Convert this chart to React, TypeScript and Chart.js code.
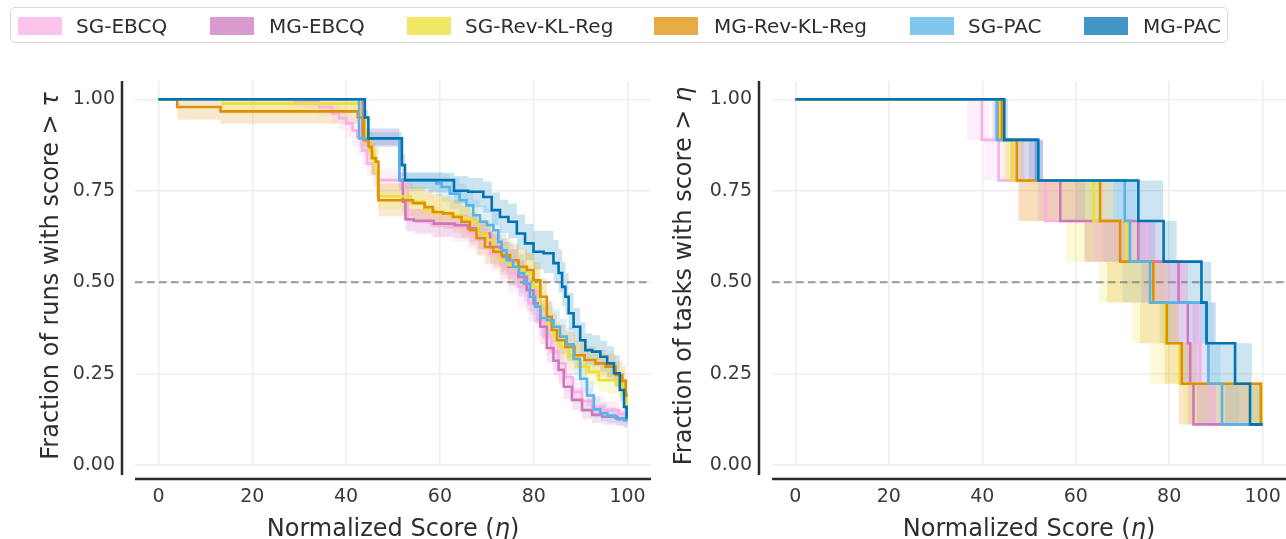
import React, { useEffect, useRef } from "react";
import { Chart, registerables } from "chart.js";

Chart.register(...registerables);

// ---------------- series ----------------
const seriesNames = ["SG-EBCQ", "MG-EBCQ", "SG-Rev-KL-Reg", "MG-Rev-KL-Reg", "SG-PAC", "MG-PAC"];
const seriesColors = ["#fbafe4", "#cc78bc", "#ece133", "#de8f05", "#56b4e9", "#0173b2"];

// ---------------- fraction of runs (score distribution) ----------------
const runXSgEbcq = [0, 29, 29.5, 32.1, 36.4, 37.8, 39.3, 40.7, 42, 42.8, 44, 45, 46.4, 47.1, 52.8, 53.5, 56.4, 60, 64.9, 67.1, 69.3, 72.1, 73.5, 75.7, 77.8, 80, 81.5, 83, 84.5, 86, 87.5, 89.2, 91.4, 93.5, 96.4, 100];
const runYSgEbcq = [1, 1, 0.993, 0.993, 0.979, 0.961, 0.948, 0.934, 0.915, 0.897, 0.86, 0.824, 0.797, 0.779, 0.779, 0.67, 0.665, 0.656, 0.651, 0.633, 0.615, 0.578, 0.551, 0.524, 0.487, 0.442, 0.396, 0.35, 0.31, 0.278, 0.24, 0.2, 0.175, 0.159, 0.15, 0.14];
const runLoSgEbcq = [1, 1, 0.98, 0.975, 0.955, 0.935, 0.915, 0.895, 0.87, 0.85, 0.82, 0.79, 0.76, 0.74, 0.74, 0.64, 0.63, 0.62, 0.61, 0.59, 0.57, 0.53, 0.5, 0.47, 0.43, 0.39, 0.35, 0.3, 0.26, 0.23, 0.2, 0.17, 0.15, 0.14, 0.13, 0.12];
const runHiSgEbcq = [1, 1, 1, 1, 0.995, 0.985, 0.975, 0.965, 0.95, 0.935, 0.9, 0.86, 0.83, 0.81, 0.81, 0.7, 0.7, 0.69, 0.685, 0.67, 0.65, 0.62, 0.6, 0.57, 0.54, 0.49, 0.44, 0.4, 0.36, 0.32, 0.28, 0.24, 0.21, 0.19, 0.175, 0.16];

const runXMgEbcq = [0, 43, 44, 51, 51.7, 52.5, 52.8, 56, 61.4, 64.9, 67.1, 69.3, 72.1, 73.5, 75.7, 77.8, 79.2, 80.7, 82.1, 83.5, 84.9, 85.7, 87.1, 89.2, 91.4, 93.5, 95.7, 100];
const runYMgEbcq = [1, 1, 0.893, 0.893, 0.779, 0.72, 0.672, 0.668, 0.66, 0.656, 0.647, 0.633, 0.596, 0.569, 0.542, 0.514, 0.478, 0.442, 0.378, 0.32, 0.285, 0.26, 0.214, 0.178, 0.15, 0.137, 0.132, 0.125];
const runLoMgEbcq = [1, 1, 0.87, 0.87, 0.75, 0.69, 0.64, 0.635, 0.625, 0.62, 0.61, 0.59, 0.55, 0.52, 0.49, 0.46, 0.42, 0.39, 0.33, 0.28, 0.245, 0.22, 0.18, 0.15, 0.125, 0.115, 0.11, 0.105];
const runHiMgEbcq = [1, 1, 0.92, 0.92, 0.8, 0.75, 0.7, 0.7, 0.69, 0.685, 0.68, 0.67, 0.64, 0.61, 0.59, 0.56, 0.53, 0.49, 0.43, 0.37, 0.33, 0.3, 0.25, 0.21, 0.18, 0.16, 0.155, 0.145];

const runXSgRev = [0, 13.5, 14, 42.5, 43.5, 44.5, 45.5, 46.5, 47, 52, 55.5, 57.8, 60, 63.5, 65.7, 67.1, 69.3, 70.7, 72.1, 73.5, 75.7, 77.8, 79.2, 80.7, 82.1, 83.5, 84.9, 86.3, 88.5, 90.6, 92.8, 94.9, 97.1, 98.5, 99.6, 100];
const runYSgRev = [1, 1, 0.988, 0.988, 0.95, 0.9, 0.86, 0.8, 0.735, 0.735, 0.72, 0.697, 0.688, 0.683, 0.674, 0.665, 0.633, 0.615, 0.587, 0.56, 0.546, 0.533, 0.524, 0.487, 0.433, 0.387, 0.351, 0.323, 0.296, 0.269, 0.255, 0.232, 0.232, 0.223, 0.196, 0.17];
const runLoSgRev = [1, 1, 0.96, 0.96, 0.92, 0.87, 0.82, 0.76, 0.7, 0.7, 0.68, 0.66, 0.65, 0.645, 0.635, 0.62, 0.59, 0.57, 0.54, 0.51, 0.5, 0.49, 0.48, 0.44, 0.39, 0.35, 0.31, 0.29, 0.26, 0.235, 0.22, 0.2, 0.195, 0.185, 0.16, 0.14];
const runHiSgRev = [1, 1, 1, 1, 0.98, 0.94, 0.9, 0.84, 0.77, 0.77, 0.76, 0.74, 0.73, 0.72, 0.71, 0.705, 0.68, 0.66, 0.63, 0.61, 0.59, 0.58, 0.57, 0.54, 0.48, 0.43, 0.39, 0.36, 0.33, 0.3, 0.29, 0.27, 0.27, 0.26, 0.235, 0.21];

const runXMgRev = [0, 3.5, 4.5, 13, 13.5, 42, 43, 44.6, 45, 46, 46.7, 47.1, 52.8, 55.7, 57.8, 59.2, 62.1, 63.5, 65.7, 67.1, 68.5, 70.7, 72.1, 74.2, 75.7, 77.8, 79.2, 80.7, 82.1, 83.5, 84.2, 85.7, 87.8, 89.6, 92.1, 94.2, 96.4, 98.5, 99.2, 100];
const runYMgRev = [1, 1, 0.979, 0.979, 0.967, 0.967, 0.95, 0.888, 0.87, 0.839, 0.829, 0.724, 0.724, 0.716, 0.705, 0.692, 0.688, 0.678, 0.665, 0.642, 0.62, 0.596, 0.583, 0.574, 0.56, 0.542, 0.533, 0.505, 0.46, 0.405, 0.369, 0.341, 0.323, 0.3, 0.287, 0.278, 0.269, 0.246, 0.23, 0.19];
const runLoMgRev = [1, 1, 0.945, 0.945, 0.933, 0.933, 0.91, 0.85, 0.83, 0.8, 0.78, 0.68, 0.68, 0.67, 0.66, 0.65, 0.645, 0.635, 0.62, 0.6, 0.575, 0.55, 0.54, 0.53, 0.52, 0.5, 0.49, 0.46, 0.42, 0.37, 0.335, 0.3, 0.28, 0.265, 0.25, 0.24, 0.23, 0.21, 0.2, 0.16];
const runHiMgRev = [1, 1, 1, 1, 0.995, 0.995, 0.985, 0.93, 0.91, 0.88, 0.87, 0.77, 0.77, 0.76, 0.75, 0.74, 0.735, 0.725, 0.71, 0.69, 0.67, 0.645, 0.63, 0.62, 0.605, 0.59, 0.58, 0.555, 0.51, 0.45, 0.415, 0.385, 0.365, 0.34, 0.325, 0.315, 0.305, 0.285, 0.27, 0.23];

const runXSgPac = [0, 42, 43.5, 51, 51.7, 58.5, 60, 60.7, 63.5, 64.9, 66.4, 67.8, 69.3, 70.7, 72.1, 72.8, 73.5, 74.9, 76.3, 77.4, 78.5, 79.9, 80.7, 82.1, 83.5, 84.9, 86.3, 87.8, 89.2, 90.6, 92.1, 93.5, 94.9, 96.4, 98.5, 100];
const runYSgPac = [1, 1, 0.893, 0.893, 0.779, 0.779, 0.77, 0.76, 0.742, 0.724, 0.71, 0.683, 0.665, 0.656, 0.642, 0.61, 0.587, 0.56, 0.542, 0.524, 0.496, 0.46, 0.433, 0.402, 0.396, 0.378, 0.351, 0.33, 0.29, 0.236, 0.19, 0.152, 0.142, 0.135, 0.128, 0.122];
const runLoSgPac = [1, 1, 0.87, 0.87, 0.75, 0.75, 0.735, 0.72, 0.7, 0.68, 0.665, 0.64, 0.62, 0.61, 0.595, 0.565, 0.54, 0.51, 0.49, 0.47, 0.445, 0.41, 0.385, 0.355, 0.35, 0.33, 0.305, 0.285, 0.245, 0.2, 0.16, 0.13, 0.12, 0.115, 0.11, 0.1];
const runHiSgPac = [1, 1, 0.92, 0.92, 0.8, 0.8, 0.8, 0.795, 0.785, 0.77, 0.755, 0.725, 0.71, 0.7, 0.69, 0.655, 0.635, 0.61, 0.59, 0.575, 0.545, 0.51, 0.48, 0.45, 0.445, 0.425, 0.4, 0.375, 0.335, 0.28, 0.23, 0.185, 0.17, 0.16, 0.15, 0.145];

const runXMgPac = [0, 43.5, 44.5, 45, 51.5, 52.3, 52.8, 62.5, 63.5, 68.5, 70, 72.1, 73.5, 75.7, 77.1, 79.2, 80.7, 83.5, 84.9, 85.7, 86.4, 87.1, 87.8, 89.2, 90.6, 91.4, 93.5, 94.9, 96.4, 97.8, 98.9, 99.6, 100];
const runYMgPac = [1, 1, 0.95, 0.893, 0.893, 0.82, 0.779, 0.779, 0.75, 0.747, 0.733, 0.697, 0.678, 0.665, 0.633, 0.606, 0.583, 0.579, 0.552, 0.525, 0.487, 0.46, 0.415, 0.378, 0.341, 0.314, 0.31, 0.296, 0.278, 0.251, 0.205, 0.159, 0.13];
const runLoMgPac = [1, 1, 0.93, 0.875, 0.875, 0.79, 0.755, 0.745, 0.715, 0.705, 0.69, 0.655, 0.635, 0.62, 0.59, 0.56, 0.535, 0.525, 0.5, 0.47, 0.435, 0.41, 0.37, 0.335, 0.3, 0.275, 0.27, 0.255, 0.24, 0.215, 0.175, 0.135, 0.11];
const runHiMgPac = [1, 1, 0.97, 0.91, 0.91, 0.85, 0.8, 0.8, 0.79, 0.785, 0.775, 0.745, 0.725, 0.715, 0.685, 0.66, 0.64, 0.64, 0.615, 0.59, 0.555, 0.525, 0.47, 0.43, 0.39, 0.36, 0.355, 0.34, 0.325, 0.3, 0.25, 0.2, 0.165];

// ---------------- fraction of tasks (9 tasks) ----------------
const taskLevels = [1.0, 0.889, 0.778, 0.667, 0.556, 0.444, 0.333, 0.222, 0.111];
// score at which each curve drops to the next level
const taskDropSgEbcq = [39.9, 43.5, 53.5, 75.2, 82.3, 86.0, 86.6, 89.1];
const taskLoSgEbcq = [36.7, 40.5, 47.5, 64, 75, 81, 84, 86];
const taskHiSgEbcq = [41.5, 45, 56, 78, 84, 88, 89, 97];

const taskDropMgEbcq = [43.5, 51.5, 56.7, 73.4, 82.0, 84.0, 84.5, 85.2];
const taskLoMgEbcq = [42, 46, 52, 62, 74, 80, 82, 84];
const taskHiMgEbcq = [44.5, 53, 62, 77, 84, 86, 87, 90];

const taskDropSgRev = [43.8, 46.5, 63.8, 70.9, 75.9, 79.1, 82.3, 99.8];
const taskLoSgRev = [43, 44.5, 48, 58, 65, 72, 76, 83];
const taskHiSgRev = [44.5, 48, 66, 74, 79, 82, 85, 100];

const taskDropMgRev = [44.2, 47.4, 65.2, 69.5, 76.6, 79.5, 82.7, 99.6];
const taskLoMgRev = [43.5, 45, 47.8, 61.8, 66.7, 73.8, 79, 82];
const taskHiMgRev = [45, 49, 68, 72, 80, 82, 86, 100];

const taskDropSgPac = [43.1, 51.7, 70.5, 71.6, 75.9, 88.0, 88.4, 91.3];
const taskLoSgPac = [42.5, 48, 60, 66, 70, 78, 83, 86];
const taskHiSgPac = [44, 53, 73, 77, 80, 89.5, 91, 95];

const taskDropMgPac = [44.7, 52.0, 73.4, 78.8, 86.9, 88.0, 94.1, 97.3];
const taskLoMgPac = [44, 50, 68, 73, 80, 85, 88, 92];
const taskHiMgPac = [45.5, 53, 78.7, 81.6, 89, 90, 97.7, 100];

// ---------------- axes ----------------
const xTicks = [0, 20, 40, 60, 80, 100];
const yTicks = [0, 0.25, 0.5, 0.75, 1.0];
const referenceLevel = 0.5;

type Pt = { x: number; y: number };
type Band = { line: Pt[]; lo: Pt[]; hi: Pt[] };
type Part = { text: string; italic?: boolean };

const FONT = "'DejaVu Sans', 'Liberation Sans', sans-serif";

function pairUp(xs: number[], ys: number[]): Pt[] {
  return xs.map((x, i) => ({ x, y: ys[i] }));
}

function stairs(drops: number[]): Pt[] {
  const pts: Pt[] = [{ x: 0, y: taskLevels[0] }];
  drops.forEach((d, i) => pts.push({ x: d, y: taskLevels[i + 1] }));
  pts.push({ x: 100, y: taskLevels[taskLevels.length - 1] });
  return pts;
}

const runBands: Band[] = [
  { line: pairUp(runXSgEbcq, runYSgEbcq), lo: pairUp(runXSgEbcq, runLoSgEbcq), hi: pairUp(runXSgEbcq, runHiSgEbcq) },
  { line: pairUp(runXMgEbcq, runYMgEbcq), lo: pairUp(runXMgEbcq, runLoMgEbcq), hi: pairUp(runXMgEbcq, runHiMgEbcq) },
  { line: pairUp(runXSgRev, runYSgRev), lo: pairUp(runXSgRev, runLoSgRev), hi: pairUp(runXSgRev, runHiSgRev) },
  { line: pairUp(runXMgRev, runYMgRev), lo: pairUp(runXMgRev, runLoMgRev), hi: pairUp(runXMgRev, runHiMgRev) },
  { line: pairUp(runXSgPac, runYSgPac), lo: pairUp(runXSgPac, runLoSgPac), hi: pairUp(runXSgPac, runHiSgPac) },
  { line: pairUp(runXMgPac, runYMgPac), lo: pairUp(runXMgPac, runLoMgPac), hi: pairUp(runXMgPac, runHiMgPac) },
];

const taskBands: Band[] = [
  { line: stairs(taskDropSgEbcq), lo: stairs(taskLoSgEbcq), hi: stairs(taskHiSgEbcq) },
  { line: stairs(taskDropMgEbcq), lo: stairs(taskLoMgEbcq), hi: stairs(taskHiMgEbcq) },
  { line: stairs(taskDropSgRev), lo: stairs(taskLoSgRev), hi: stairs(taskHiSgRev) },
  { line: stairs(taskDropMgRev), lo: stairs(taskLoMgRev), hi: stairs(taskHiMgRev) },
  { line: stairs(taskDropSgPac), lo: stairs(taskLoSgPac), hi: stairs(taskHiSgPac) },
  { line: stairs(taskDropMgPac), lo: stairs(taskLoMgPac), hi: stairs(taskHiMgPac) },
];

function rgba(hex: string, a: number) {
  const n = parseInt(hex.slice(1), 16);
  return `rgba(${(n >> 16) & 255},${(n >> 8) & 255},${n & 255},${a})`;
}

function drawParts(ctx: CanvasRenderingContext2D, parts: Part[], size: number) {
  const fonts = parts.map((p) => `${p.italic ? "italic " : ""}${size}px ${FONT}`);
  const widths = parts.map((p, i) => {
    ctx.font = fonts[i];
    return ctx.measureText(p.text).width;
  });
  const total = widths.reduce((a, b) => a + b, 0);
  let x = -total / 2;
  ctx.textAlign = "left";
  ctx.textBaseline = "alphabetic";
  parts.forEach((p, i) => {
    ctx.font = fonts[i];
    ctx.fillText(p.text, x, 0);
    x += widths[i];
  });
}

type PanelSpec = {
  bands: Band[];
  stepped: any;
  yTitle: Part[];
  yTitleX: number; // baseline of rotated title, canvas px
  yAxisWidth: number;
  padRight: number;
};

function decorPlugin(spec: PanelSpec) {
  return {
    id: "panelDecor",
    beforeDatasetsDraw(chart: any) {
      const { ctx, chartArea: a, scales } = chart;
      const y = scales.y.getPixelForValue(referenceLevel);
      ctx.save();
      ctx.setLineDash([7.5, 4.5]);
      ctx.strokeStyle = "rgba(130,130,130,0.8)";
      ctx.lineWidth = 2;
      ctx.beginPath();
      ctx.moveTo(a.left, y);
      ctx.lineTo(a.right, y);
      ctx.stroke();
      ctx.restore();
    },
    afterDraw(chart: any) {
      const { ctx, chartArea: a } = chart;
      ctx.save();
      // offset spines
      ctx.strokeStyle = "#2b2b2b";
      ctx.lineWidth = 2.5;
      ctx.beginPath();
      ctx.moveTo(a.left - 13, a.top);
      ctx.lineTo(a.left - 13, a.bottom + 10);
      ctx.stroke();
      ctx.beginPath();
      ctx.moveTo(a.left, a.bottom + 14);
      ctx.lineTo(a.right, a.bottom + 14);
      ctx.stroke();
      // axis titles
      ctx.fillStyle = "#2e2e2e";
      ctx.save();
      ctx.translate((a.left + a.right) / 2, a.bottom + 71);
      drawParts(ctx, [{ text: "Normalized Score (" }, { text: "η", italic: true }, { text: ")" }], 24);
      ctx.restore();
      ctx.save();
      ctx.translate(spec.yTitleX, (a.top + a.bottom) / 2 + 3);
      ctx.rotate(-Math.PI / 2);
      drawParts(ctx, spec.yTitle, 24);
      ctx.restore();
      ctx.restore();
    },
  };
}

function buildConfig(spec: PanelSpec): any {
  const datasets: any[] = [];
  spec.bands.forEach((b, i) => {
    datasets.push({
      data: b.hi,
      fill: "+1",
      backgroundColor: rgba(seriesColors[i], 0.2),
      borderColor: "transparent",
      borderWidth: 0,
      pointRadius: 0,
      stepped: spec.stepped,
      order: 20 + i,
    });
    datasets.push({
      data: b.lo,
      fill: false,
      borderColor: "transparent",
      borderWidth: 0,
      pointRadius: 0,
      stepped: spec.stepped,
      order: 20 + i,
    });
  });
  spec.bands.forEach((b, i) => {
    datasets.push({
      label: seriesNames[i],
      data: b.line,
      fill: false,
      borderColor: seriesColors[i],
      borderWidth: 2.6,
      pointRadius: 0,
      stepped: spec.stepped,
      order: 5 - i,
    });
  });

  const tickFont = { family: FONT, size: 19 };
  return {
    type: "line",
    data: { datasets },
    options: {
      animation: false,
      responsive: false,
      maintainAspectRatio: false,
      events: [],
      layout: { padding: { top: 81, bottom: 0, left: 0, right: spec.padRight } },
      plugins: {
        legend: { display: false },
        tooltip: { enabled: false },
        filler: { drawTime: "beforeDatasetsDraw" },
      },
      scales: {
        x: {
          type: "linear",
          min: -5,
          max: 105,
          afterBuildTicks: (s: any) => {
            s.ticks = xTicks.map((v) => ({ value: v }));
          },
          afterFit: (s: any) => {
            s.height = 74;
            s.paddingLeft = 0;
            s.paddingRight = 0;
          },
          grid: { color: "#eeeeee", lineWidth: 1.5, drawTicks: false },
          border: { display: false },
          ticks: {
            padding: 21,
            color: "#3a3a3a",
            font: tickFont,
            maxRotation: 0,
            autoSkip: false,
            callback: (v: any) => String(v),
          },
        },
        y: {
          type: "linear",
          min: 0,
          max: 1.05,
          afterBuildTicks: (s: any) => {
            s.ticks = yTicks.map((v) => ({ value: v }));
          },
          afterFit: (s: any) => {
            s.width = spec.yAxisWidth;
            s.paddingTop = 0;
            s.paddingBottom = 0;
          },
          grid: { color: "#eeeeee", lineWidth: 1.5, drawTicks: false },
          border: { display: false },
          ticks: {
            padding: 20,
            color: "#3a3a3a",
            font: tickFont,
            autoSkip: false,
            callback: (v: any) => Number(v).toFixed(2),
          },
        },
      },
    },
    plugins: [decorPlugin(spec)],
  };
}

function Panel({ spec, left, width }: { spec: PanelSpec; left: number; width: number }) {
  const ref = useRef<HTMLCanvasElement | null>(null);
  useEffect(() => {
    if (!ref.current) return;
    const chart = new Chart(ref.current, buildConfig(spec));
    return () => chart.destroy();
  }, [spec]);
  return (
    <canvas
      ref={ref}
      width={width}
      height={539}
      style={{ position: "absolute", left, top: 0, width, height: 539 }}
    />
  );
}

const runsSpec: PanelSpec = {
  bands: runBands,
  stepped: "middle",
  yTitle: [{ text: "Fraction of runs with score > " }, { text: "τ", italic: true }],
  yTitleX: 58,
  yAxisWidth: 135,
  padRight: 4,
};

const tasksSpec: PanelSpec = {
  bands: taskBands,
  stepped: true,
  yTitle: [{ text: "Fraction of tasks with score > " }, { text: "η", italic: true }],
  yTitleX: 51,
  yAxisWidth: 132,
  padRight: 0,
};

// legend layout: patch left, text left
const legendSlots = [
  [18, 76],
  [210, 269],
  [407, 465],
  [654, 714],
  [910, 968],
  [1084, 1143],
];

export default function App() {
  return (
    <div
      style={{
        position: "absolute",
        left: 0,
        top: 0,
        width: 1286,
        height: 539,
        background: "#ffffff",
        overflow: "hidden",
      }}
    >
      <Panel spec={runsSpec} left={0} width={655} />
      <Panel spec={tasksSpec} left={640} width={646} />
      <div
        style={{
          position: "absolute",
          left: 10,
          top: 7,
          width: 1218,
          height: 36,
          boxSizing: "border-box",
          border: "1px solid #d8d8d8",
          borderRadius: 5,
          background: "rgba(255,255,255,0.9)",
        }}
      />
      {seriesNames.map((name, i) => (
        <React.Fragment key={name}>
          <div
            style={{
              position: "absolute",
              left: legendSlots[i][0],
              top: 17,
              width: 44,
              height: 18,
              background: rgba(seriesColors[i], 0.75),
            }}
          />
          <div
            style={{
              position: "absolute",
              left: legendSlots[i][1],
              top: 16,
              fontFamily: FONT,
              fontSize: 20,
              lineHeight: "20px",
              color: "#2e2e2e",
              whiteSpace: "nowrap",
            }}
          >
            {name}
          </div>
        </React.Fragment>
      ))}
    </div>
  );
}
